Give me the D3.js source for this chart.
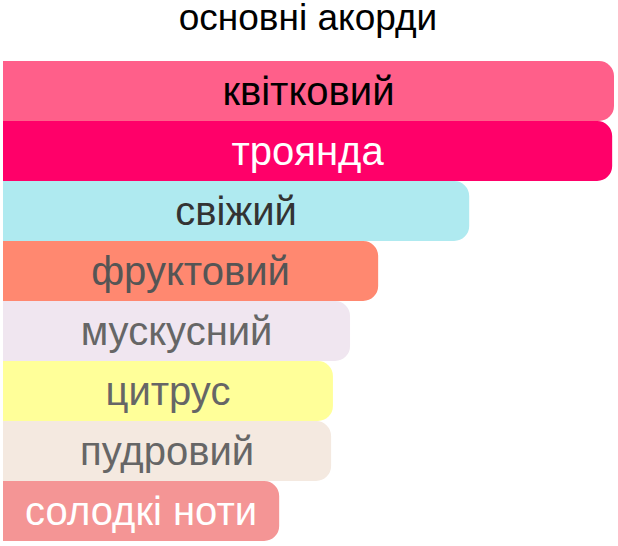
<!DOCTYPE html>
<head>
    <meta charset="utf-8">
    <title>основні акорди</title>
    <script src="https://cdn.jsdelivr.net/npm/d3@7"></script>
    <style>
        body { margin: 0; background: #fff; }
    </style>
</head>
<body>
    <div id="container"></div>
    <script>
        // data
        const accords = ["квітковий", "троянда", "свіжий", "фруктовий", "мускусний", "цитрус", "пудровий", "солодкі ноти"];
        const strength = [100, 99.7, 76.3, 61.4, 56.8, 54.0, 53.7, 45.2];
        const barColors = ["#FF5F8A", "#FF0069", "#AFEAF0", "#FF8870", "#F0E6F0", "#FFFF99", "#F4E9E0", "#F49595"];
        const textColors = ["#000000", "#FFFFFF", "#333333", "#555555", "#666666", "#666666", "#666666", "#FFFFFF"];

        const width = 618, height = 546;
        const barsTop = 61, barH = 60, radius = 15;

        const svg = d3.select("#container")
            .append("svg")
            .attr("width", width)
            .attr("height", height);

        const xScale = d3.scaleLinear()
            .domain([0, 100])
            .range([3, 614]);

        const yScale = d3.scaleBand()
            .domain(accords)
            .range([barsTop, barsTop + barH * accords.length])
            .padding(0);

        // rect with only the right corners rounded
        function barPath(x0, y0, w, h, r) {
            r = Math.min(r, w, h / 2);
            return "M" + x0 + "," + y0 +
                "H" + (x0 + w - r) +
                "A" + r + "," + r + " 0 0 1 " + (x0 + w) + "," + (y0 + r) +
                "V" + (y0 + h - r) +
                "A" + r + "," + r + " 0 0 1 " + (x0 + w - r) + "," + (y0 + h) +
                "H" + x0 + "Z";
        }

        const rows = svg.selectAll("g.bar")
            .data(accords)
            .enter()
            .append("g")
            .attr("class", "bar");

        rows.append("path")
            .attr("fill", function (d, i) { return barColors[i]; })
            .attr("d", function (d, i) {
                return barPath(xScale(0), yScale(d), xScale(strength[i]) - xScale(0), yScale.bandwidth(), radius);
            });

        rows.append("text")
            .attr("x", function (d, i) { return (xScale(0) + xScale(strength[i])) / 2; })
            .attr("y", function (d) { return yScale(d) + 44; })
            .attr("text-anchor", "middle")
            .attr("font-family", "'Liberation Sans', Arial, sans-serif")
            .attr("font-size", 40)
            .attr("fill", function (d, i) { return textColors[i]; })
            .text(function (d) { return d; });

        // title
        svg.append("text")
            .attr("x", 308)
            .attr("y", 30)
            .attr("text-anchor", "middle")
            .attr("font-family", "'Liberation Sans', Arial, sans-serif")
            .attr("font-size", 37)
            .attr("fill", "#000")
            .text("основні акорди");
    </script>
</body>
